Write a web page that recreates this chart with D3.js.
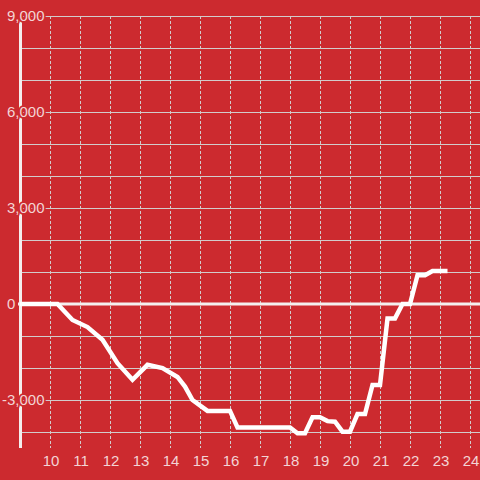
<!DOCTYPE html>
<html>
<head>
<meta charset="utf-8">
<script src="https://cdn.jsdelivr.net/npm/d3@7"></script>
<style>
  html, body { margin: 0; padding: 0; background: #cc2a2f; }
  svg { display: block; }
</style>
</head>
<body>
<svg id="chart" width="480" height="480"></svg>
<script>
const hours = [9, 10.25, 10.75, 11.25, 11.75, 12.25, 12.75, 13.25, 13.75, 14.25, 14.5, 14.75, 15.25, 16, 16.25, 18, 18.25, 18.5, 18.75, 19, 19.25, 19.5, 19.75, 20, 20.25, 20.5, 20.75, 21, 21.25, 21.5, 21.75, 22, 22.25, 22.5, 22.75, 23.25];
const values = [0, 0, -500, -720, -1120, -1850, -2370, -1900, -2000, -2280, -2580, -3000, -3340, -3340, -3860, -3860, -4040, -4040, -3540, -3540, -3660, -3680, -3990, -3990, -3440, -3440, -2530, -2530, -450, -450, 0, 0, 900, 900, 1030, 1030];
const xTicks = [10, 11, 12, 13, 14, 15, 16, 17, 18, 19, 20, 21, 22, 23, 24];
const yGrid = [-4000, -3000, -2000, -1000, 1000, 2000, 3000, 4000, 5000, 6000, 7000, 8000, 9000];
const yLabels = [9000, 6000, 3000, 0, -3000];

const bg = "#cc2a2f";
const gridColor = "#d2cccc";
const textColor = "#f3d4d5";

const svg = d3.select("#chart");
const x = d3.scaleLinear().domain([9, 24 + 1/3]).range([20, 480]);
const y = d3.scaleLinear().domain([-4500, 9000]).range([448, 16]);

// horizontal gridlines
svg.append("g").selectAll("line").data(yGrid).join("line")
  .attr("x1", x(9)).attr("x2", 480)
  .attr("y1", d => Math.round(y(d)) + 0.5).attr("y2", d => Math.round(y(d)) + 0.5)
  .attr("stroke", gridColor).attr("stroke-width", 1.2);

// vertical dashed gridlines
svg.append("g").selectAll("line").data(xTicks).join("line")
  .attr("x1", d => Math.round(x(d)) + 0.5).attr("x2", d => Math.round(x(d)) + 0.5)
  .attr("y1", y(9000)).attr("y2", y(-4500))
  .attr("stroke", gridColor).attr("stroke-width", 1)
  .attr("stroke-dasharray", "3,2");

// zero line
svg.append("line")
  .attr("x1", x(9) - 2).attr("x2", 480)
  .attr("y1", y(0)).attr("y2", y(0))
  .attr("stroke", "#f4eeee").attr("stroke-width", 3.2);

// y axis line
svg.append("line")
  .attr("x1", x(9) + 0.5).attr("x2", x(9) + 0.5)
  .attr("y1", y(9000)).attr("y2", y(-4500))
  .attr("stroke", "#f4eeee").attr("stroke-width", 3);

// data line
const line = d3.line().x((d, i) => x(hours[i])).y(d => y(d)).curve(d3.curveLinear);
svg.append("path").datum(values)
  .attr("d", line)
  .attr("fill", "none").attr("stroke", "#ffffff")
  .attr("stroke-width", 4.5).attr("stroke-linejoin", "miter");

// y labels with halo
const fmt = d3.format(",");
const yl = svg.append("g")
  .style("font-family", "'Liberation Sans', Arial, sans-serif")
  .style("font-size", "15px");
yLabels.forEach(v => {
  const t = yl.append("text")
    .attr("x", 7).attr("y", y(v)).attr("dy", "0.35em")
    .attr("fill", textColor)
    .attr("stroke", bg).attr("stroke-width", 3.5)
    .attr("paint-order", "stroke")
    .text(fmt(Math.abs(v)));
  if (v < 0) {
    yl.append("text")
      .attr("x", 7).attr("y", y(v)).attr("dy", "0.35em")
      .attr("text-anchor", "end")
      .attr("fill", textColor)
      .attr("stroke", bg).attr("stroke-width", 3.5)
      .attr("paint-order", "stroke")
      .text("-");
  }
});

// x labels
svg.append("g")
  .style("font-family", "'Liberation Sans', Arial, sans-serif")
  .style("font-size", "15px")
  .selectAll("text").data(xTicks).join("text")
  .attr("x", d => x(d) + 1).attr("y", 466)
  .attr("text-anchor", "middle")
  .attr("fill", textColor)
  .text(d => d);
</script>
</body>
</html>
